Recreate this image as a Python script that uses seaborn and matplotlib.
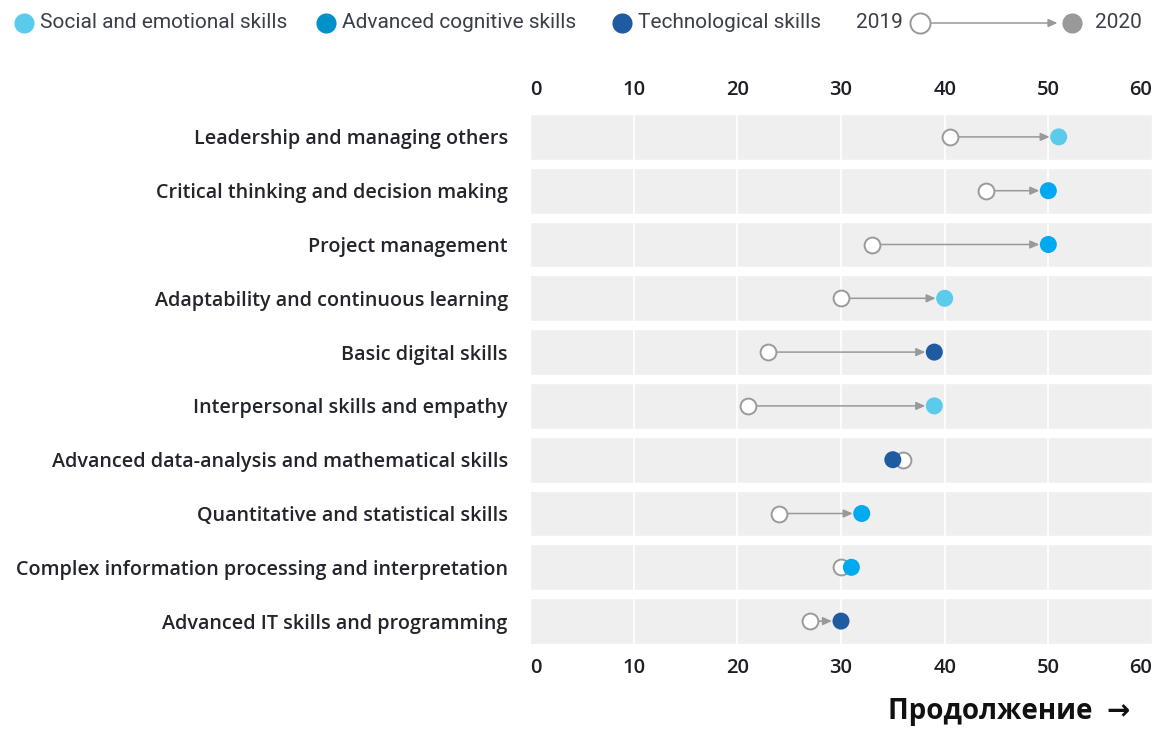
"""
Skills in demand: 2019 vs 2020 dumbbell chart.
"""

import pandas as pd
import seaborn as sns
import matplotlib.pyplot as plt

# ============================================================
# DATA
# ============================================================

skills = [
    "Leadership and managing others",
    "Critical thinking and decision making",
    "Project management",
    "Adaptability and continuous learning",
    "Basic digital skills",
    "Interpersonal skills and empathy",
    "Advanced data-analysis and mathematical skills",
    "Quantitative and statistical skills",
    "Complex information processing and interpretation",
    "Advanced IT skills and programming",
]
groups = [
    "Social and emotional skills",
    "Advanced cognitive skills",
    "Advanced cognitive skills",
    "Social and emotional skills",
    "Technological skills",
    "Social and emotional skills",
    "Technological skills",
    "Advanced cognitive skills",
    "Advanced cognitive skills",
    "Technological skills",
]
values_2019 = [40.5, 44, 33, 30, 23, 21, 36, 24, 30, 27]
values_2020 = [51, 50, 50, 40, 39, 39, 35, 32, 31, 30]
x_ticks = [0, 10, 20, 30, 40, 50, 60]

group_names = ["Social and emotional skills", "Advanced cognitive skills", "Technological skills"]
dot_colors = {
    "Social and emotional skills": "#5BCBEC",
    "Advanced cognitive skills": "#00A9F0",
    "Technological skills": "#1F5BA0",
}
legend_colors = ["#5BCBEC", "#0091CA", "#1F5BA0"]

df = pd.DataFrame({
    "skill": skills,
    "group": groups,
    "y2019": values_2019,
    "y2020": values_2020,
})
df["row"] = range(len(df))

# ============================================================
# FIGURE
# ============================================================

sns.set_theme(style="white")
plt.rcParams["font.family"] = ["Open Sans", "DejaVu Sans"]

fig = plt.figure(figsize=(11.54, 7.31), dpi=100)
W, H = 1154, 731
ax = fig.add_axes([530 / W, 1 - 648 / H, 622 / W, 538 / H])

# grey row bands
ax.barh(df["row"], [60] * len(df), height=0.85, left=0, color="#EFEFEF", zorder=0)
for t in x_ticks[1:-1]:
    ax.axvline(t, color="white", lw=1.2, zorder=1)

# arrows 2019 -> 2020
for _, r in df.iterrows():
    if r["y2020"] - r["y2019"] > 1.5:
        ax.annotate(
            "", xy=(r["y2020"], r["row"]), xytext=(r["y2019"], r["row"]),
            arrowprops=dict(arrowstyle="-|>,head_length=0.45,head_width=0.2",
                            color="#999999", lw=1.1, shrinkA=6, shrinkB=6.5),
            zorder=2,
        )

# 2019 open circles
ax.scatter(df["y2019"], df["row"], s=130, facecolor="white",
           edgecolor="#9A9A9A", linewidth=1.4, zorder=3)

# 2020 filled circles
sns.scatterplot(data=df, x="y2020", y="row", hue="group", palette=dot_colors,
                s=150, linewidth=0, legend=False, zorder=4, ax=ax)

ax.set_xlim(0, 60)
ax.set_ylim(len(df) - 0.5, -0.5)
ax.set_xticks(x_ticks)
ax.set_yticks(df["row"], df["skill"])
ax.tick_params(axis="x", which="both", length=0, top=True, labeltop=True,
               bottom=True, labelbottom=True, pad=7, labelsize=14.5, labelcolor="#1E1E24")
ax.tick_params(axis="y", length=0, pad=16, labelsize=14.2, labelcolor="#22252C")
for lbl in ax.get_xticklabels() + ax.get_yticklabels():
    lbl.set_fontweight("semibold")
# first and last x labels sit inside the plot edges
first, last = ax.xaxis.get_major_ticks()[0], ax.xaxis.get_major_ticks()[-1]
for lbl in (first.label1, first.label2):
    lbl.set_horizontalalignment("left")
for lbl in (last.label1, last.label2):
    lbl.set_horizontalalignment("right")
ax.set_xlabel("")
ax.set_ylabel("")
sns.despine(ax=ax, left=True, bottom=True)

# ============================================================
# LEGEND
# ============================================================

lax = fig.add_axes([0, 1 - 45 / H, 1, 45 / H])
lax.set_xlim(0, W)
lax.set_ylim(45, 0)
lax.axis("off")

legend_font = dict(va="center", fontsize=15, color="#3A3F4A",
                   family=["Roboto", "DejaVu Sans"])
legend_x = [24, 326, 622]
for xpos, name, col in zip(legend_x, group_names, legend_colors):
    lax.scatter([xpos], [23], s=210, color=col, linewidth=0)
    lax.text(xpos + 16, 23, name, ha="left", **legend_font)

lax.text(903, 23, "2019", ha="right", **legend_font)
lax.annotate("", xy=(1070, 23), xytext=(920, 23),
             arrowprops=dict(arrowstyle="-|>,head_length=0.45,head_width=0.2",
                             color="#999999", lw=1.1, shrinkA=8, shrinkB=9))
lax.scatter([920], [23], s=210, facecolor="white", edgecolor="#9A9A9A", linewidth=1.4, zorder=3)
lax.scatter([1072], [23], s=210, color="#999999", linewidth=0, zorder=3)
lax.text(1095, 23, "2020", ha="left", **legend_font)

# continuation note
fig.text(1130 / W, 1 - 712 / H, "Продолжение  →", ha="right", va="center",
         fontsize=20, fontweight="bold", color="#111111",
         family=["Open Sans", "DejaVu Sans"])

fig.savefig("out.png", dpi=100)
plt.close(fig)
